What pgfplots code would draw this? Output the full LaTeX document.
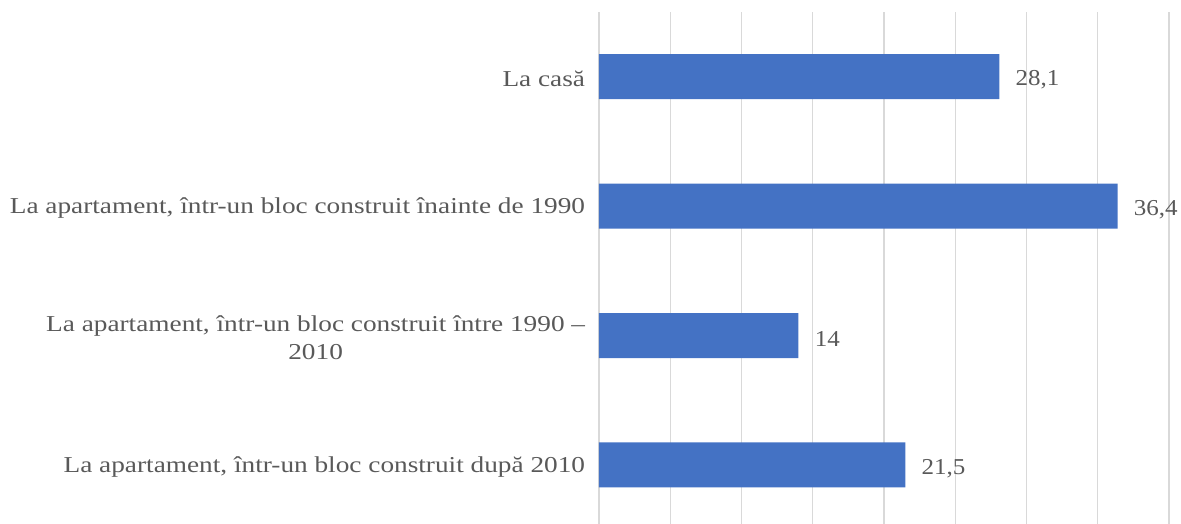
\documentclass[border=0pt]{standalone}
\usepackage{fontspec}
\setmainfont{Liberation Serif}[FakeStretch=1.2]
\newfontfamily\numfont{Liberation Serif}[FakeStretch=1.1]
\usepackage{pgfplots}
\pgfplotsset{compat=1.18}
\definecolor{barblue}{HTML}{4472C4}
\definecolor{gridgray}{HTML}{D9D9D9}
\definecolor{txtgray}{HTML}{595959}

\begin{document}
\begin{tikzpicture}
\begin{axis}[
    at={(0,0)}, anchor=south west,
    scale only axis,
    width=427.5pt, height=384pt,
    xbar, bar width=0.348,
    xmin=0, xmax=40,
    ymin=-0.456, ymax=3.5,
    xtick={0,5,...,40}, xticklabels={},
    ytick={0,1,2,3},
    yticklabels={
        {La apartament, într-un bloc construit după 2010},
        {La apartament, într-un bloc construit între 1990 –\\2010},
        {La apartament, într-un bloc construit înainte de 1990},
        {La casă}},
    xmajorgrids,
    major grid style={gridgray, line width=0.9pt},
    axis line style={draw=none},
    tick style={draw=none},
    yticklabel style={align=center, inner sep=0pt, xshift=-6pt, yshift=-1.5pt,
        font=\fontsize{17.05}{21}\selectfont, text=txtgray},
    nodes near coords={\pgfmathprintnumber[assume math mode=true,use comma,fixed,precision=1]{\pgfplotspointmeta}},
    nodes near coords style={anchor=west, inner sep=0pt, xshift=12pt, yshift=-2.5pt,
        font=\numfont\fontsize{17.05}{21}\selectfont, text=txtgray},
]
\addplot[fill=barblue, draw=none] coordinates {(21.5,0) (14,1) (36.4,2) (28.1,3)};
\end{axis}
\pgfresetboundingbox
\path[use as bounding box] (-449.25pt,0) rectangle (436.5pt,393pt);
\end{tikzpicture}
\end{document}
